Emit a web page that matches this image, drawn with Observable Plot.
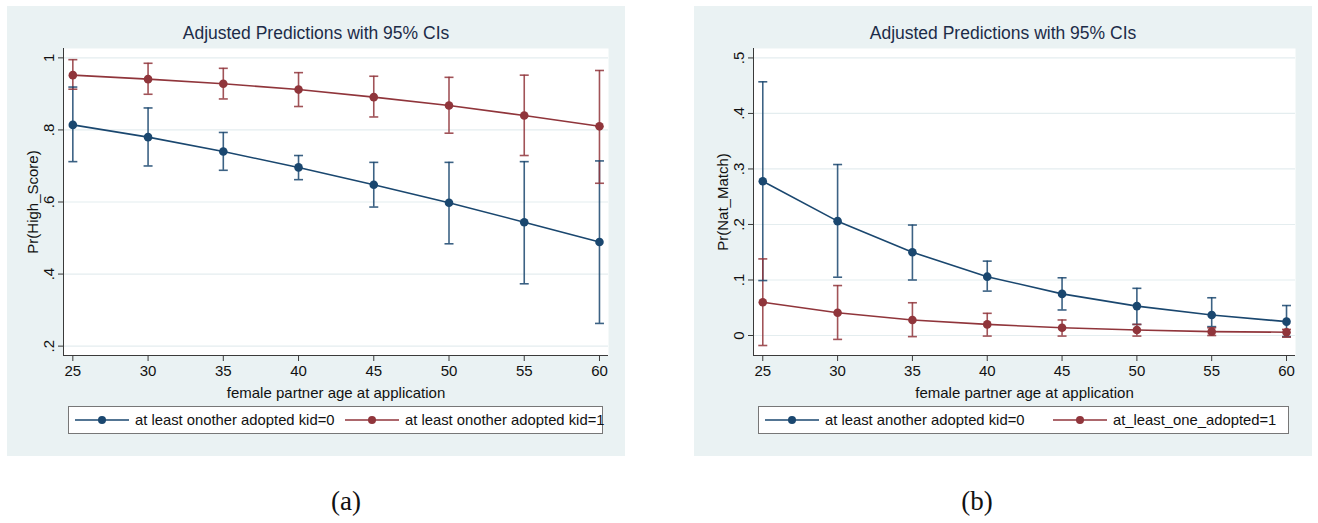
<!DOCTYPE html>
<html>
<head>
<meta charset="utf-8">
<script src="https://cdn.jsdelivr.net/npm/d3@7"></script>
<script src="https://cdn.jsdelivr.net/npm/@observablehq/plot@0.6"></script>
<style>
  html, body { margin: 0; padding: 0; background: #ffffff; }
  body { width: 1318px; height: 523px; position: relative; overflow: hidden; font-family: "Liberation Sans", Arial, sans-serif; }
  .panel { position: absolute; top: 6px; width: 618px; height: 450px; background: #eaf2f3; }
  .panel svg { position: absolute; left: 0; top: 0; }
  .title { position: absolute; left: 0; top: 17px; width: 618px; text-align: center; font-size: 17.5px; line-height: 20px; color: #1c2c48; }
  .legend { position: absolute; top: 400px; height: 28px; background: #fff; border: 1px solid #777; box-sizing: border-box; }
  .legend .item { position: absolute; top: 0; height: 26px; display: flex; align-items: center; font-size: 14.8px; color: #111; white-space: nowrap; }
  .legend svg { position: static; margin-right: 6px; }
  .caption { position: absolute; top: 486px; font-family: "Liberation Serif", "DejaVu Serif", serif; font-size: 27px; color: #111; transform: translateX(-50%); }
</style>
</head>
<body>
<div id="root"></div>
<script>
// ---------- data ----------
const ages = [25, 30, 35, 40, 45, 50, 55, 60];
const xTicks = [25, 30, 35, 40, 45, 50, 55, 60];

// Panel (a): Pr(High_Score)
const hsTicks = [0.2, 0.4, 0.6, 0.8, 1];
const hs0   = [0.814, 0.780, 0.740, 0.696, 0.648, 0.598, 0.544, 0.489];
const hs0Lo = [0.712, 0.700, 0.688, 0.662, 0.586, 0.484, 0.373, 0.263];
const hs0Hi = [0.919, 0.861, 0.793, 0.729, 0.710, 0.710, 0.712, 0.714];
const hs1   = [0.952, 0.941, 0.928, 0.912, 0.891, 0.868, 0.840, 0.810];
const hs1Lo = [0.913, 0.899, 0.886, 0.865, 0.836, 0.791, 0.729, 0.652];
const hs1Hi = [0.995, 0.985, 0.971, 0.959, 0.949, 0.946, 0.952, 0.965];

// Panel (b): Pr(Nat_Match)
const nmTicks = [0, 0.1, 0.2, 0.3, 0.4, 0.5];
const nm0   = [0.278, 0.206, 0.150, 0.106, 0.075, 0.053, 0.037, 0.025];
const nm0Lo = [0.099, 0.105, 0.100, 0.080, 0.046, 0.020, 0.016, -0.002];
const nm0Hi = [0.457, 0.308, 0.199, 0.134, 0.104, 0.085, 0.068, 0.054];
const nm1   = [0.060, 0.041, 0.028, 0.020, 0.014, 0.010, 0.007, 0.006];
const nm1Lo = [-0.018, -0.007, -0.002, -0.001, -0.001, -0.001, 0.000, -0.003];
const nm1Hi = [0.138, 0.090, 0.059, 0.040, 0.028, 0.020, 0.014, 0.011];

const titleText = "Adjusted Predictions with 95% CIs";
const xLabel = "female partner age at application";
const legendA = ["at least onother adopted kid=0", "at least onother adopted kid=1"];
const legendB = ["at least another adopted kid=0", "at_least_one_adopted=1"];
const groups = ["0", "1"];
const colors = ["#1a476f", "#90353b"];

// ---------- helpers ----------
function rowsFor(p0, lo0, hi0, p1, lo1, hi1) {
  const rows = [];
  ages.forEach((a, i) => rows.push({age: a, p: p0[i], lo: lo0[i], hi: hi0[i], g: "0"}));
  ages.forEach((a, i) => rows.push({age: a, p: p1[i], lo: lo1[i], hi: hi1[i], g: "1"}));
  return rows;
}
const capSymbol = {
  draw(context, size) {
    const w = Math.sqrt(size / Math.PI);
    context.moveTo(-w, 0);
    context.lineTo(w, 0);
  }
};
const fmtY = d => d === 0 ? "0" : d === 1 ? "1" : String(+d.toFixed(2)).replace(/^0\./, ".");

function makePanel({left, rows, yDomain, yTicks, yLabel, marginLeft, legend, legendBox, legendItems}) {
  const panel = document.createElement("div");
  panel.className = "panel";
  panel.style.left = left + "px";
  document.getElementById("root").appendChild(panel);

  const title = document.createElement("div");
  title.className = "title";
  title.textContent = titleText;
  panel.appendChild(title);

  const xDomain = [24.38, 60.6];
  const axisColor = "#3a3a3a";
  const chart = Plot.plot({
    width: 618,
    height: 400,
    marginLeft,
    marginRight: 17,
    marginTop: 42,
    marginBottom: 51,
    style: {background: "transparent", fontFamily: "'Liberation Sans', Arial, sans-serif", fontSize: "15px", color: "#111"},
    x: {domain: xDomain},
    y: {domain: yDomain},
    color: {domain: groups, range: colors},
    marks: [
      Plot.frame({fill: "white", stroke: null}),
      Plot.gridY(yTicks, {stroke: "#e4edef", strokeOpacity: 1, strokeWidth: 1.2}),
      Plot.ruleX([xDomain[0]], {stroke: axisColor, strokeWidth: 1}),
      Plot.ruleY([yDomain[0]], {stroke: axisColor, strokeWidth: 1}),
      Plot.axisX(xTicks, {tickSize: 6, tickPadding: 4, stroke: axisColor, label: xLabel, labelAnchor: "center", labelOffset: 42, labelArrow: false}),
      Plot.axisY(yTicks, {tickSize: 5, tickPadding: 5, tickRotate: -90, tickFormat: fmtY, stroke: axisColor, label: yLabel, labelAnchor: "center", labelOffset: 36, labelArrow: false}),
      Plot.ruleX(rows, {x: "age", y1: "lo", y2: "hi", stroke: "g", strokeWidth: 1.6, strokeOpacity: 0.85}),
      Plot.dot(rows, {x: "age", y: "lo", symbol: capSymbol, r: 4.5, stroke: "g", strokeWidth: 1.6, fill: "none", strokeOpacity: 0.85}),
      Plot.dot(rows, {x: "age", y: "hi", symbol: capSymbol, r: 4.5, stroke: "g", strokeWidth: 1.6, fill: "none", strokeOpacity: 0.85}),
      Plot.line(rows, {x: "age", y: "p", z: "g", stroke: "g", strokeWidth: 1.6}),
      Plot.dot(rows, {x: "age", y: "p", fill: "g", r: 4.3, stroke: null})
    ]
  });
  panel.appendChild(chart);

  const lg = document.createElement("div");
  lg.className = "legend";
  lg.style.left = legendBox[0] + "px";
  lg.style.width = legendBox[1] + "px";
  panel.appendChild(lg);
  legend.forEach((label, i) => {
    const it = document.createElement("div");
    it.className = "item";
    it.style.left = legendItems[i] + "px";
    it.innerHTML = `<svg width="54" height="12"><line x1="0" x2="54" y1="6" y2="6" stroke="${colors[i]}" stroke-width="1.6"/><circle cx="27" cy="6" r="4" fill="${colors[i]}"/></svg><span></span>`;
    it.querySelector("span").textContent = label;
    lg.appendChild(it);
  });
}

makePanel({
  left: 7,
  rows: rowsFor(hs0, hs0Lo, hs0Hi, hs1, hs1Lo, hs1Hi),
  yDomain: [0.174, 1.026],
  yTicks: hsTicks,
  yLabel: "Pr(High_Score)",
  marginLeft: 56,
  legend: legendA,
  legendBox: [61, 535],
  legendItems: [6, 276]
});
makePanel({
  left: 694,
  rows: rowsFor(nm0, nm0Lo, nm0Hi, nm1, nm1Lo, nm1Hi),
  yDomain: [-0.036, 0.517],
  yTicks: nmTicks,
  yLabel: "Pr(Nat_Match)",
  marginLeft: 59,
  legend: legendB,
  legendBox: [64, 531],
  legendItems: [6, 294]
});

const capA = document.createElement("div");
capA.className = "caption"; capA.style.left = "346px"; capA.textContent = "(a)";
document.getElementById("root").appendChild(capA);
const capB = document.createElement("div");
capB.className = "caption"; capB.style.left = "977px"; capB.textContent = "(b)";
document.getElementById("root").appendChild(capB);
</script>
</body>
</html>
